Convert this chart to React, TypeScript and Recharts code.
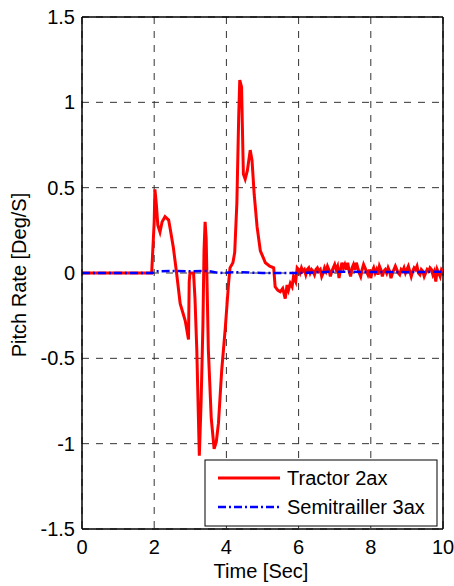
import React from 'react';
import { LineChart, Line, XAxis, YAxis, CartesianGrid, ReferenceLine } from 'recharts';

const xTicks = [0, 2, 4, 6, 8, 10];
const yTicks = [-1.5, -1, -0.5, 0, 0.5, 1, 1.5];

// Tractor 2ax pitch rate
const tractorTime = [
  0, 1.93, 2.0, 2.02, 2.06, 2.1, 2.16, 2.22, 2.3, 2.4, 2.45, 2.53, 2.62, 2.72, 2.86, 2.95,
  2.97, 2.99, 3.09, 3.13, 3.18, 3.25, 3.3, 3.35, 3.38, 3.41, 3.44, 3.5, 3.58, 3.66, 3.72,
  3.78, 3.87, 3.97, 4.06, 4.1, 4.18, 4.23, 4.29, 4.34, 4.37, 4.42, 4.47, 4.52, 4.58, 4.66, 4.71,
  4.77, 4.85, 4.94, 5.0, 5.08, 5.2, 5.31, 5.35, 5.42, 5.49, 5.56, 5.63, 5.68, 5.72, 5.77, 5.82,
  5.86, 5.92, 5.96,
  6.0, 6.04, 6.08, 6.12, 6.16, 6.2, 6.24, 6.28, 6.32, 6.36, 6.4, 6.44, 6.48, 6.52, 6.56, 6.6,
  6.64, 6.68, 6.72, 6.76, 6.8, 6.84, 6.88, 6.92, 6.96, 7.0, 7.04, 7.08, 7.12, 7.16, 7.2, 7.24,
  7.28, 7.32, 7.36, 7.4, 7.44, 7.48, 7.52, 7.56, 7.6, 7.64, 7.68, 7.72, 7.76, 7.8, 7.84, 7.88,
  7.92, 7.96, 8.0, 8.04, 8.08, 8.12, 8.16, 8.2, 8.24, 8.28, 8.32, 8.36, 8.4, 8.44, 8.48, 8.52,
  8.56, 8.6, 8.64, 8.68, 8.72, 8.76, 8.8, 8.84, 8.88, 8.92, 8.96, 9.0, 9.04, 9.08, 9.12, 9.16,
  9.2, 9.24, 9.28, 9.32, 9.36, 9.4, 9.44, 9.48, 9.52, 9.56, 9.6, 9.64, 9.68, 9.72, 9.76, 9.8,
  9.84, 9.88, 9.92, 9.96, 10.0,
];
const tractorRate = [
  0, 0, 0.3, 0.49, 0.4, 0.28, 0.24, 0.3, 0.33, 0.31, 0.25, 0.15, 0.0, -0.18, -0.28, -0.39,
  -0.05, 0.0, 0.0, -0.15, -0.45, -1.07, -0.75, -0.3, 0.13, 0.3, 0.2, -0.45, -0.85, -1.03, -0.99,
  -0.88, -0.57, -0.32, -0.06, 0.03, 0.06, 0.12, 0.41, 0.91, 1.13, 1.09, 0.58, 0.55, 0.6, 0.72, 0.66,
  0.46, 0.27, 0.13, 0.1, 0.06, 0.04, 0.03, -0.08, -0.1, -0.11, -0.09, -0.15, -0.07, -0.1, -0.06, -0.08,
  -0.02, -0.05, 0.03,
  0.02, 0.0, 0.03, 0.01, 0.02, -0.01, 0.02, 0.03, 0.0, 0.02, 0.01, -0.01, 0.02, 0.03, 0.01, 0.02,
  -0.02, 0.0, 0.03, 0.01, 0.04, 0.02, -0.02, 0.01, 0.03, 0.05, 0.02, 0.04, -0.03, 0.02, 0.06, 0.03,
  0.05, 0.02, 0.06, 0.01, -0.02, 0.03, 0.05, 0.02, 0.06, 0.03, 0.0, -0.02, 0.02, 0.05, 0.03, 0.01,
  -0.01, 0.02, -0.03, 0.01, 0.03, 0.0, 0.02, -0.01, 0.04, 0.02, -0.02, 0.01, 0.02, 0.0, 0.03, 0.01,
  -0.03, 0.0, 0.02, 0.04, 0.02, 0.0, -0.01, 0.02, 0.01, 0.03, 0.0, 0.02, 0.04, 0.01, -0.02, 0.01,
  0.03, 0.02, 0.04, 0.0, -0.01, 0.02, 0.01, -0.02, 0.0, 0.02, 0.01, 0.03, 0.02, -0.01, 0.01, -0.05,
  0.02, 0.0, -0.02, 0.02, 0.01,
];

// Semitrailler 3ax pitch rate
const trailerTime = [0, 1.95, 2.05, 2.5, 3.0, 3.5, 3.8, 4.3, 5.0, 6.0, 7.0, 8.0, 9.0, 10.0];
const trailerRate = [0, 0, 0.01, 0.012, 0.01, 0.012, 0.0, 0.005, 0.0, 0.0, 0.008, 0.006, 0.005, 0.008];

const tractorData = tractorTime.map((t, i) => ({ t, v: tractorRate[i] }));
const trailerData = trailerTime.map((t, i) => ({ t, v: trailerRate[i] }));

const FONT = '"Liberation Sans", Arial, sans-serif';
const tickStyle = { fill: '#000', fontSize: 20, fontFamily: FONT };

export default function App() {
  return (
    <div style={{ position: 'absolute', left: 0, top: 0, background: '#fff' }}>
      <LineChart width={454} height={586} margin={{ top: 17, right: 11, bottom: 0, left: 0 }}>
        <CartesianGrid stroke="#333" strokeDasharray="7 7" />
        <XAxis
          type="number"
          dataKey="t"
          domain={[0, 10]}
          ticks={xTicks}
          allowDataOverflow
          height={57}
          tick={tickStyle}
          tickSize={0}
          tickMargin={11}
          axisLine={{ stroke: '#000', strokeWidth: 1.5 }}
          label={{
            content: () => (
              <text x={261} y={578} textAnchor="middle" fontSize={20} fontFamily={FONT} fill="#000">
                Time [Sec]
              </text>
            ),
          }}
        />
        <YAxis
          type="number"
          dataKey="v"
          domain={[-1.5, 1.5]}
          ticks={yTicks}
          allowDataOverflow
          width={82}
          tick={tickStyle}
          tickSize={0}
          tickMargin={7}
          axisLine={{ stroke: '#000', strokeWidth: 1.5 }}
          label={{
            content: () => (
              <text
                x={26}
                y={275}
                transform="rotate(-90 26 275)"
                textAnchor="middle"
                fontSize={20}
                fontFamily={FONT}
                fill="#000"
              >
                Pitch Rate [Deg/S]
              </text>
            ),
          }}
        />
        <ReferenceLine y={1.5} stroke="#000" strokeWidth={1.5} />
        <ReferenceLine x={10} stroke="#000" strokeWidth={1.5} />
        <Line
          data={tractorData}
          dataKey="v"
          type="linear"
          stroke="#ff0000"
          strokeWidth={3}
          dot={false}
          isAnimationActive={false}
        />
        <Line
          data={trailerData}
          dataKey="v"
          type="linear"
          stroke="#0000ff"
          strokeWidth={2.5}
          strokeDasharray="8 3 2 3"
          dot={false}
          isAnimationActive={false}
        />
        <g fontFamily={FONT} fontSize={20} fill="#000">
          <rect x={205} y={460} width={232} height={66} fill="#fff" stroke="#000" strokeWidth={1} />
          <line x1={218} y1={478} x2={280} y2={478} stroke="#ff0000" strokeWidth={3} />
          <text x={287} y={485}>Tractor 2ax</text>
          <line x1={218} y1={507} x2={280} y2={507} stroke="#0000ff" strokeWidth={2.5} strokeDasharray="8 3 2 3" />
          <text x={287} y={514}>Semitrailler 3ax</text>
        </g>
      </LineChart>
    </div>
  );
}
